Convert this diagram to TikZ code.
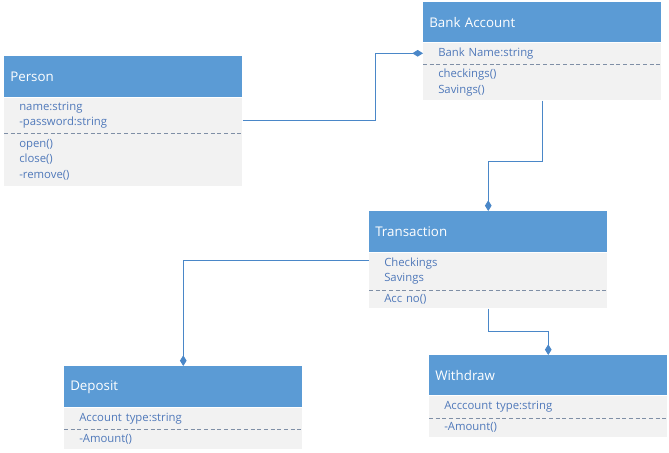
\documentclass[tikz,border=0pt]{standalone}
\usepackage{fontspec}
\setmainfont{Open Sans}
\usetikzlibrary{positioning,arrows.meta}
\definecolor{headblue}{HTML}{5B9BD5}
\definecolor{bodygray}{HTML}{F2F2F2}
\definecolor{textblue}{HTML}{5079BA}
\definecolor{linkblue}{HTML}{4A87C8}
\definecolor{sepgray}{HTML}{7F8FA6}
\begin{document}
\begin{tikzpicture}[
	x=0.75pt, y=-0.75pt,
	classname/.style={rectangle, fill=headblue, text=white, anchor=north west, minimum width=178.5pt, minimum height=30.75pt, text width=169.5pt, inner xsep=4.5pt, inner ysep=0pt, align=left, font=\fontsize{10}{12}\selectfont},
	classpart/.style={rectangle, fill=bodygray, text=textblue, minimum width=178.5pt, text width=156pt, inner xsep=11.25pt, inner ysep=0pt, align=left, font=\fontsize{8.5}{11.6}\selectfont},
	sepline/.style={draw=sepgray, densely dashed, line width=0.5pt},
	link/.style={draw=linkblue, line width=0.75pt, -{Diamond[length=8pt, width=5pt]}}
]
\useasboundingbox (0,0) rectangle (669,453);

\node[classname] (pers) at (4,56) {Person};
\node[classpart, below=0pt of pers, minimum height=26.25pt] (pers-a) {name:string\\-password:string};
\node[classpart, below=0pt of pers-a, minimum height=39.75pt] (pers-o) {open()\\close()\\-remove()};
\draw[sepline] (pers-a.south west) -- (pers-a.south east);

\node[classname, minimum height=30pt] (ba) at (423,2) {Bank Account};
\node[classpart, below=0pt of ba, minimum height=15.75pt] (ba-a) {Bank Name:string};
\node[classpart, below=0pt of ba-a, minimum height=27pt] (ba-o) {checkings()\\Savings()};
\draw[sepline] (ba-a.south west) -- (ba-a.south east);

\node[classname] (trans) at (369,211) {Transaction};
\node[classpart, below=0pt of trans, minimum height=27.75pt] (trans-a) {Checkings\\Savings};
\node[classpart, below=0pt of trans-a, minimum height=13.5pt] (trans-o) {Acc no()};
\draw[sepline] (trans-a.south west) -- (trans-a.south east);

\node[classname] (dep) at (64,366) {Deposit};
\node[classpart, below=0pt of dep, minimum height=15.75pt] (dep-a) {Account type:string};
\node[classpart, below=0pt of dep-a, minimum height=15pt] (dep-o) {-Amount()};
\draw[sepline] (dep-a.south west) -- (dep-a.south east);

\node[classname, minimum height=30pt] (wd) at (429,355) {Withdraw};
\node[classpart, below=0pt of wd, minimum height=16.5pt] (wd-a) {Acccount type:string};
\node[classpart, below=0pt of wd-a, minimum height=14.25pt] (wd-o) {-Amount()};
\draw[sepline] (wd-a.south west) -- (wd-a.south east);

\draw[link] ([yshift=-4pt]pers-a.east) -| ([xshift=-36pt]ba-a.west) -- (ba-a.west);
\draw[link] (ba-o.south) -- ++(0,61) -| (trans.north);
\draw[link] ([yshift=-6pt]trans.south west) -| (dep.north);
\draw[link] (trans-o.south) -- ++(0,23) -| (wd.north);
\end{tikzpicture}
\end{document}
